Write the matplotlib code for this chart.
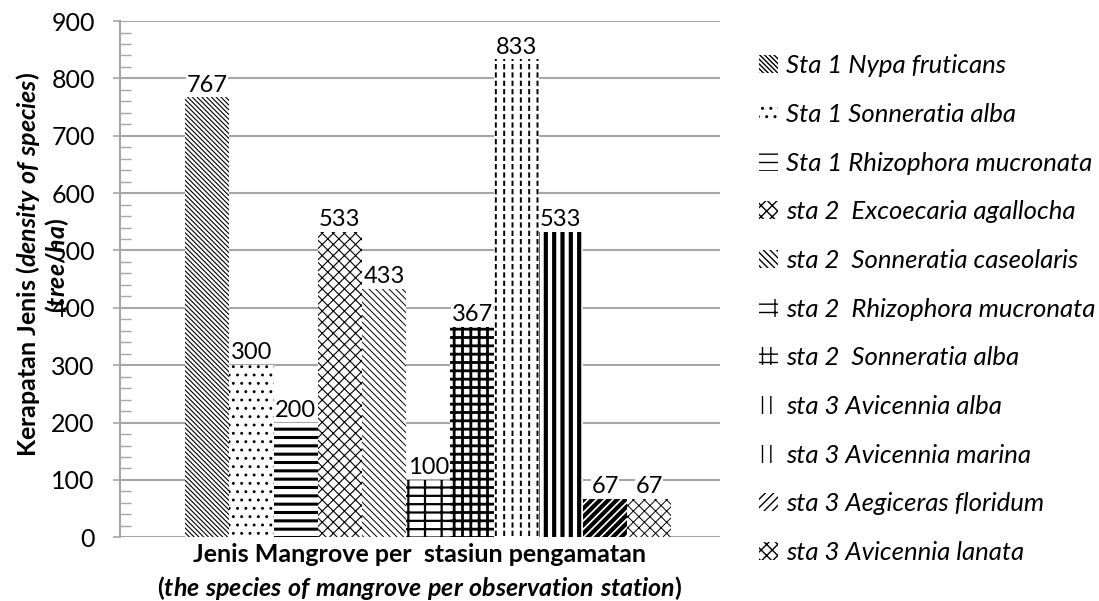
import matplotlib
matplotlib.use("Agg")
import matplotlib.pyplot as plt
from matplotlib.patches import Patch

# -------- Data --------
species = [
    "Sta 1 Nypa fruticans",
    "Sta 1 Sonneratia alba",
    "Sta 1 Rhizophora mucronata",
    "sta 2  Excoecaria agallocha",
    "sta 2  Sonneratia caseolaris",
    "sta 2  Rhizophora mucronata",
    "sta 2  Sonneratia alba",
    "sta 3 Avicennia alba",
    "sta 3 Avicennia marina",
    "sta 3 Aegiceras floridum",
    "sta 3 Avicennia lanata",
]
density = [767, 300, 200, 533, 433, 100, 367, 833, 533, 67, 67]

# hatch pattern and hatch line width for each bar
hatches = ["\\" * 7, "..", "--", "xxx", "\\" * 5, "-+", "++", "||", "||", "////", "xxx"]
hatch_lw = [0.8, 0.9, 2.2, 0.8, 0.7, 1.6, 2.0, 1.4, 3.0, 3.0, 0.7]
# white hatch laid on top to break lines into dashes
overlay = [None] * 7 + ["--", None, None, None]

plt.rcParams["font.family"] = ["Lato", "DejaVu Sans"]
plt.rcParams["mathtext.fontset"] = "custom"
plt.rcParams["mathtext.it"] = "Lato:italic:bold"
plt.rcParams["mathtext.rm"] = "Lato:bold"

fig = plt.figure(figsize=(10.99, 6.01), dpi=100)
ax = fig.add_axes([0.109, 0.106, 0.546, 0.859])

grid_col = "#a6a6a6"
handles = []
for i, (name, val) in enumerate(zip(species, density)):
    with plt.rc_context({"hatch.linewidth": hatch_lw[i]}):
        bars = ax.bar(i, val, width=1.0, color="white", edgecolor="black",
                      linewidth=0, hatch=hatches[i], zorder=3)
        for b in bars:
            if hasattr(b, "set_hatch_linewidth"):
                b.set_hatch_linewidth(hatch_lw[i])
        h = Patch(facecolor="white", edgecolor="black", linewidth=0,
                  hatch=hatches[i], label=name)
        if hasattr(h, "set_hatch_linewidth"):
            h.set_hatch_linewidth(hatch_lw[i])
        handles.append(h)
    if overlay[i]:
        with plt.rc_context({"hatch.linewidth": 2.2}):
            top = ax.bar(i, val, width=1.0, color="none", edgecolor="white",
                         linewidth=0, hatch=overlay[i], zorder=4)
            for b in top:
                if hasattr(b, "set_hatch_linewidth"):
                    b.set_hatch_linewidth(2.2)
    ax.text(i, val + 3, str(val), ha="center", va="bottom", fontsize=17,
            zorder=5, bbox=dict(facecolor="white", edgecolor="none", pad=0.3))

ax.set_xlim(-1.98, 11.6)
ax.set_ylim(0, 900)
ax.set_yticks(range(0, 901, 100))
ax.set_yticks(range(0, 901, 20), minor=True)
ax.set_xticks([])
ax.tick_params(axis="y", which="major", direction="out", length=5, width=1.2,
               color=grid_col, labelsize=18, pad=13)
ax.tick_params(axis="y", which="minor", direction="in", length=8, width=1.0,
               color=grid_col)
ax.yaxis.grid(True, color=grid_col, linewidth=1.5, zorder=0)
ax.set_axisbelow(True)
for s in ["top", "right", "bottom"]:
    ax.spines[s].set_visible(False)
ax.spines["left"].set_color(grid_col)
ax.spines["left"].set_linewidth(1.5)

ax.set_xlabel("Jenis Mangrove per  stasiun pengamatan\n"
              r"($\mathit{the\ species\ of\ mangrove\ per\ observation\ station}$)",
              fontsize=18, fontweight="bold", labelpad=4, linespacing=1.35)
fig.text(0.039, 0.559,
         r"Kerapatan Jenis ($\mathit{density\ of\ species}$)" "\n"
         r"($\mathit{tree/ha}$)",
         rotation=90, ha="center", va="center", multialignment="center",
         fontsize=18, fontweight="bold", linespacing=1.05)

leg = fig.legend(handles=handles, loc="upper left", bbox_to_anchor=(0.681, 0.927),
                 frameon=False, prop={"style": "italic", "size": 18.5},
                 handlelength=0.75, handleheight=0.7, handletextpad=0.3,
                 labelspacing=1.0, borderaxespad=0)

fig.savefig("out.png", dpi=100)
